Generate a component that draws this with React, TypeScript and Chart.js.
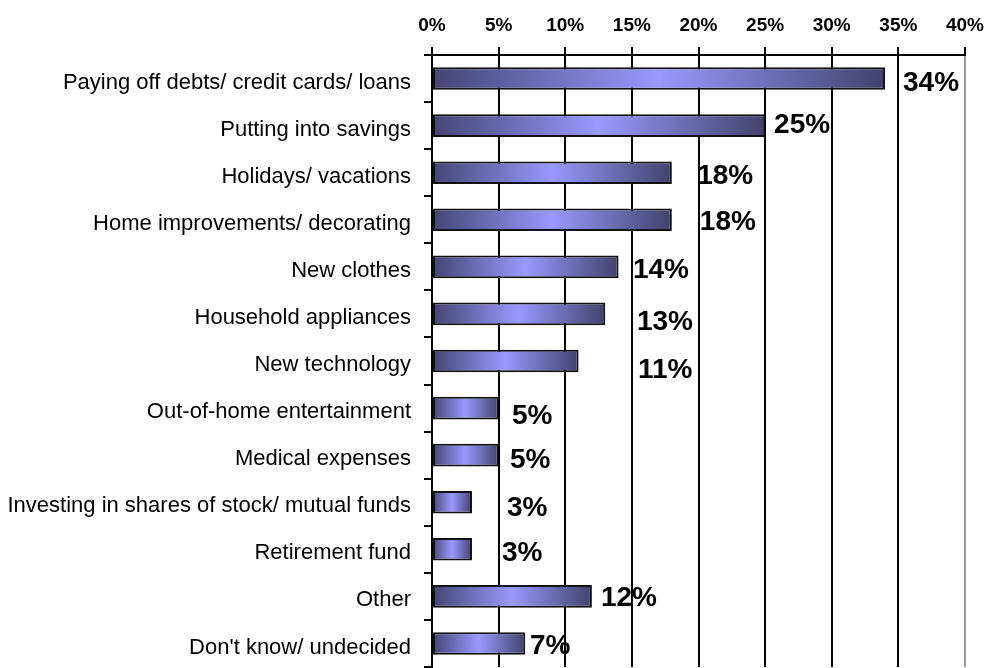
import React, { useEffect, useRef } from "react";
import { Chart, registerables } from "chart.js";

Chart.register(...registerables);

const categories = [
  "Paying off debts/ credit cards/ loans",
  "Putting into savings",
  "Holidays/ vacations",
  "Home improvements/ decorating",
  "New clothes",
  "Household appliances",
  "New technology",
  "Out-of-home entertainment",
  "Medical expenses",
  "Investing in shares of stock/ mutual funds",
  "Retirement fund",
  "Other",
  "Don't know/ undecided",
];

const values = [34, 25, 18, 18, 14, 13, 11, 5, 5, 3, 3, 12, 7];

const xTicks = [0, 5, 10, 15, 20, 25, 30, 35, 40];

// where each value label starts on the value axis (in %), as placed in the original
const labelAt = [35.35, 25.67, 19.9, 20.1, 15.08, 15.38, 15.46, 6.0, 5.85, 5.63, 5.25, 12.68, 7.35];
// vertical nudge of each value label (px)
const labelDy = [5, 0, 3.5, 2.5, 3, 8, 9, 8, 5, 6, 4, 2, 3];

const FONT = "'Liberation Sans', Arial, sans-serif";

const valueLabels = {
  id: "valueLabels",
  afterDatasetsDraw(chart: any) {
    const ctx = chart.ctx;
    const xs = chart.scales.x;
    const meta = chart.getDatasetMeta(0);
    ctx.save();
    ctx.font = `bold 28px ${FONT}`;
    ctx.fillStyle = "#000";
    ctx.textAlign = "left";
    ctx.textBaseline = "middle";
    meta.data.forEach((el: any, i: number) => {
      const x = xs.getPixelForValue(labelAt[i]);
      const y = el.y + labelDy[i];
      ctx.fillText(values[i] + "%", x, y);
    });
    ctx.restore();
  },
};

export default function App() {
  const ref = useRef<HTMLCanvasElement | null>(null);

  useEffect(() => {
    if (!ref.current) return;
    const chart = new Chart(ref.current, {
      type: "bar",
      data: {
        labels: categories,
        datasets: [
          {
            data: values,
            borderColor: "#111",
            borderWidth: 2,
            borderSkipped: false,
            categoryPercentage: 1,
            barPercentage: 0.48,
            backgroundColor: (c: any) => {
              if (c.type !== "data") return "#9999ff";
              const ch = c.chart;
              const xs = ch.scales && ch.scales.x;
              if (!xs || !ch.chartArea) return "#9999ff";
              const x0 = xs.getPixelForValue(0);
              const x1 = xs.getPixelForValue(c.raw);
              if (!isFinite(x0) || !isFinite(x1) || x1 <= x0) return "#9999ff";
              const g = ch.ctx.createLinearGradient(x0, 0, x1, 0);
              g.addColorStop(0, "#444474");
              g.addColorStop(0.5, "#9999ff");
              g.addColorStop(1, "#42426c");
              return g;
            },
          },
        ],
      },
      options: {
        indexAxis: "y",
        animation: false,
        responsive: true,
        maintainAspectRatio: false,
        layout: { padding: { left: 0, top: 0, right: 31, bottom: 1 } },
        plugins: {
          legend: { display: false },
          tooltip: { enabled: false },
        },
        scales: {
          x: {
            type: "linear",
            position: "top",
            min: 0,
            max: 40,
            afterBuildTicks: (s: any) => {
              s.ticks = xTicks.map((v) => ({ value: v }));
            },
            afterFit: (s: any) => {
              s.height = 55;
              s.paddingLeft = 0;
              s.paddingRight = 0;
            },
            ticks: {
              callback: (v: any) => v + "%",
              color: "#000",
              font: { family: FONT, size: 19, weight: "bold" },
              padding: 10,
              maxRotation: 0,
            },
            grid: {
              color: (c: any) => (c.tick && c.tick.value === 40 ? "#999" : "#000"),
              tickColor: "#000",
              lineWidth: 2,
              drawTicks: true,
              tickLength: 8,
            },
            border: { display: true, color: "#000", width: 2 },
          },
          y: {
            type: "category",
            afterFit: (s: any) => {
              s.width = 432;
              s.paddingTop = 0;
              s.paddingBottom = 0;
            },
            ticks: {
              color: "#000",
              font: { family: FONT, size: 22 },
              padding: 13,
              labelOffset: 4,
              autoSkip: false,
            },
            grid: {
              drawOnChartArea: false,
              drawTicks: true,
              tickLength: 8,
              color: "#000",
              lineWidth: 2,
              offset: true,
            },
            border: { display: true, color: "#000", width: 2 },
          },
        },
      },
      plugins: [valueLabels],
    });
    return () => chart.destroy();
  }, []);

  return (
    <div style={{ position: "absolute", left: 0, top: 0, width: 996, height: 668, background: "#fff" }}>
      <canvas ref={ref} />
    </div>
  );
}
